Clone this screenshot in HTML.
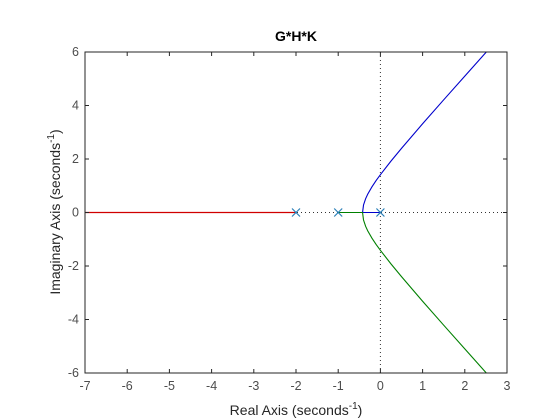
<!DOCTYPE html>
<html><head><meta charset="utf-8"><style>
html,body{margin:0;padding:0;background:#fff;}
svg{display:block;font-family:"Liberation Sans",Arial,sans-serif;}
</style></head><body>
<svg id="chart" width="560" height="420" viewBox="0 0 560 420">
<rect x="0" y="0" width="560" height="420" fill="#fff"/>
<rect x="85" y="52" width="422" height="321" fill="#fff"/>
<g id="grid"></g>
<g id="series"></g>
<rect x="85" y="52" width="422" height="321" fill="none" stroke="#262626" stroke-width="1"/>
<g id="ticks"></g>
<text x="296" y="41" text-anchor="middle" font-size="14" font-weight="bold" fill="#000">G*H*K</text>
<text x="296" y="415" text-anchor="middle" font-size="14" fill="#262626">Real Axis (seconds<tspan dy="-6" font-size="10">-1</tspan><tspan dy="6">)</tspan></text>
<text transform="translate(60,212) rotate(-90)" text-anchor="middle" font-size="14" fill="#262626">Imaginary Axis (seconds<tspan dy="-6" font-size="10">-1</tspan><tspan dy="6">)</tspan></text>
</svg>
<script>
const xTicks = [-7,-6,-5,-4,-3,-2,-1,0,1,2,3];
const yTicks = [-6,-4,-2,0,2,4,6];
const poles = [0,-1,-2];
const branchRe = [-0.423,-0.4,-0.35,-0.3,-0.2,-0.1,0,0.25,0.5,1,1.5,2,2.51];
const branchIm = [0,0.28,0.517,0.686,0.959,1.2,1.414,1.92,2.398,3.317,4.213,5.099,6.0];
const redStart = -2, redEnd = -7;
const breakaway = -0.423;

const X0=85,X1=507,Y0=373,Y1=52;
const sx = v => X0 + (v - (-7)) / 10 * (X1 - X0);
const sy = v => Y0 - (v - (-6)) / 12 * (Y0 - Y1);
const NS='http://www.w3.org/2000/svg';
function mk(tag, attrs, parent){const e=document.createElementNS(NS,tag);for(const k in attrs)e.setAttribute(k,attrs[k]);parent.appendChild(e);return e;}
const grid=document.getElementById('grid'), ser=document.getElementById('series'), tk=document.getElementById('ticks');

let l=mk('line',{x1:X0,x2:X1,y1:sy(0),y2:sy(0),stroke:'#333','stroke-width':1,'stroke-dasharray':'1,3'},grid);


l=mk('line',{x1:sx(0),x2:sx(0),y1:Y1,y2:Y0,stroke:'#333','stroke-width':1,'stroke-dasharray':'1,3'},grid);



xTicks.forEach(t=>{
  const x=sx(t);
  let a=mk('line',{x1:x,x2:x,y1:Y0,y2:Y0-4,stroke:'#262626'},tk);
  
  
  a=mk('line',{x1:x,x2:x,y1:Y1,y2:Y1+4,stroke:'#262626'},tk);
  
  
  const tx=mk('text',{x:x,y:Y0+17,'text-anchor':'middle','font-size':12.5,fill:'#4d4d4d'},tk);
  tx.textContent=t;
  
  
});
yTicks.forEach(t=>{
  const y=sy(t);
  let a=mk('line',{x1:X0,x2:X0+4,y1:y,y2:y,stroke:'#262626'},tk);
  
  
  a=mk('line',{x1:X1,x2:X1-4,y1:y,y2:y,stroke:'#262626'},tk);
  
  
  const tx=mk('text',{x:X0-6,y:y+4,'text-anchor':'end','font-size':12.5,fill:'#4d4d4d'},tk);
  tx.textContent=t;
  
  
});

let p=mk('line',{x1:sx(redStart),y1:sy(0),x2:sx(redEnd),y2:sy(0),stroke:'#d00000','stroke-width':1.2},ser);


let d='M'+sx(0)+','+sy(0)+' L'+sx(breakaway)+','+sy(0);
branchRe.forEach((r,i)=>{d+=' L'+sx(r)+','+sy(branchIm[i]);});
p=mk('path',{d:d,fill:'none',stroke:'#0000cc','stroke-width':1.1},ser);


d='M'+sx(-1)+','+sy(0)+' L'+sx(breakaway)+','+sy(0);
branchRe.forEach((r,i)=>{d+=' L'+sx(r)+','+sy(-branchIm[i]);});
p=mk('path',{d:d,fill:'none',stroke:'#008000','stroke-width':1.1},ser);



poles.forEach(v=>{
  const x=sx(v),y=sy(0),s=4;
  const m=mk('path',{d:`M${x-s},${y-s}L${x+s},${y+s}M${x-s},${y+s}L${x+s},${y-s}`,stroke:'#2a7fb8','stroke-width':1.2,fill:'none'},ser);
  
  
});
</script>
</body></html>
